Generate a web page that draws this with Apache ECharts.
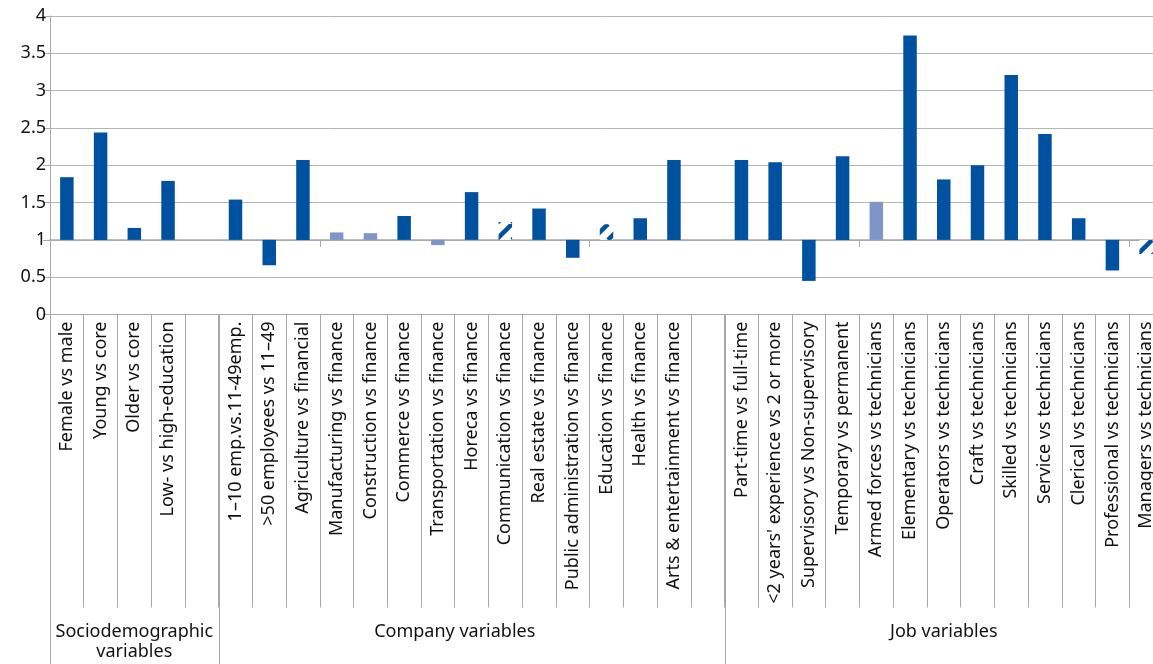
<!DOCTYPE html>
<html><head><meta charset="utf-8">
<script src="https://cdn.jsdelivr.net/npm/echarts@6/dist/echarts.min.js"></script>
<style>html,body{margin:0;padding:0;background:#fff;overflow:hidden}#c{width:1166px;height:664px}</style>
</head><body><div id="c"></div>
<script>
const categories = [
  "Female vs male", "Young vs core", "Older vs core", "Low- vs high-education", " ",
  "1\u201310 emp.vs.11-49emp.", ">50 employees vs 11\u201349", "Agriculture vs financial",
  "Manufacturing vs finance", "Construction vs finance", "Commerce vs finance",
  "Transportation vs finance", "Horeca vs finance", "Communication vs finance",
  "Real estate vs finance", "Public administration vs finance", "Education vs finance",
  "Health vs finance", "Arts & entertainment vs finance", "  ",
  "Part-time vs full-time", "<2 years' experience vs 2 or more", "Supervisory vs Non-supervisory",
  "Temporary vs permanent", "Armed forces vs technicians", "Elementary vs technicians",
  "Operators vs technicians", "Craft vs technicians", "Skilled vs technicians",
  "Service vs technicians", "Clerical vs technicians", "Professional vs technicians",
  "Managers vs technicians"
];
const values = [
  1.84, 2.44, 1.16, 1.79, null,
  1.54, 0.66, 2.07, 1.10, 1.09, 1.32, 0.93, 1.64, 1.24, 1.42, 0.76, 1.21, 1.29, 2.07, null,
  2.07, 2.04, 0.45, 2.12, 1.51, 3.74, 1.81, 2.00, 3.21, 2.42, 1.29, 0.59, 0.81
];
// d = significant (dark), l = light, h = hatched
const kinds = [
  "d","d","d","d","",
  "d","d","d","l","l","d","l","d","h","d","d","h","d","d","",
  "d","d","d","d","l","d","d","d","d","d","d","d","h"
];
const baseline = 1;
const yMin = 0, yMax = 4, yInterval = 0.5;
const groupNames = ["Sociodemographic\nvariables", "Company variables", "Job variables"];
const groupStart = [0, 5, 20];      // first slot of each group
const groupEnd = [5, 20, 33];       // slot after last of each group
const groupLabelFrom = [0, 5, 20];  // slots the label is centered on
const groupLabelTo = [5, 19, 33];

const DARK = "#0052A0", LIGHT = "#7F95C8", GRID = "#B5B5B5", AXIS = "#A8A8A8", TXT = "#111";

function hatch() {
  const c = document.createElement("canvas");
  const s = 16; c.width = s; c.height = s;
  const g = c.getContext("2d");
  g.fillStyle = "#fff"; g.fillRect(0, 0, s, s);
  g.strokeStyle = DARK; g.lineWidth = 4.5;
  for (const k of [-s, 0, s]) { g.beginPath(); g.moveTo(k, s); g.lineTo(k + s, 0); g.stroke(); }
  return { image: c, repeat: "repeat" };
}
const hatchFill = hatch();
function colorOf(k) { return k === "l" ? LIGHT : k === "h" ? hatchFill : DARK; }

const gridTop = 16, gridH = 298.5, gridLeft = 50, gridW = 1113;
const chart = echarts.init(document.getElementById("c"), null, { renderer: "canvas" });
const font = "Noto Sans";
chart.setOption({
  animation: false,
  backgroundColor: "#fff",
  textStyle: { fontFamily: font },
  grid: { left: gridLeft, top: gridTop, width: gridW, height: gridH, containLabel: false },
  xAxis: [
    {
      type: "category", data: categories, position: "bottom",
      axisLine: { lineStyle: { color: AXIS, width: 1 } },
      axisTick: { show: true, length: 293, lineStyle: { color: AXIS } },
      axisLabel: { rotate: 90, margin: 7, fontSize: 18, color: TXT, fontFamily: font, interval: 0 },
      splitLine: { show: false }
    },
    {
      type: "category", data: categories, position: "bottom",
      offset: -(gridH * (baseline - yMin) / (yMax - yMin)),
      axisLine: { lineStyle: { color: AXIS, width: 1.5 } },
      axisTick: { show: true, length: 7, lineStyle: { color: AXIS } },
      axisLabel: { show: false }
    }
  ],
  yAxis: {
    type: "value", min: yMin, max: yMax, interval: yInterval,
    axisLine: { show: true, lineStyle: { color: AXIS } },
    axisTick: { show: true, length: 7, lineStyle: { color: AXIS } },
    axisLabel: { fontSize: 18, color: TXT, margin: 4, fontFamily: font },
    splitLine: { show: true, lineStyle: { color: GRID, width: 1 } }
  },
  series: [
    {
      type: "bar", stack: "or", barWidth: "40%", silent: true,
      itemStyle: { color: "rgba(0,0,0,0)" },
      data: values.map(v => v == null ? "-" : Math.min(v, baseline))
    },
    {
      type: "bar", stack: "or", barWidth: "40%",
      data: values.map((v, i) => v == null ? "-" : {
        value: Math.abs(v - baseline),
        itemStyle: { color: colorOf(kinds[i]) }
      })
    }
  ]
});

// group labels and separators below the category labels
const band = chart.convertToPixel({ xAxisIndex: 0 }, 1) - chart.convertToPixel({ xAxisIndex: 0 }, 0);
const edge = i => chart.convertToPixel({ xAxisIndex: 0 }, i) - band / 2;
const yZero = chart.convertToPixel({ yAxisIndex: 0 }, yMin);
const graphics = [];
const bounds = new Set();
groupStart.forEach((s, gi) => { bounds.add(s); bounds.add(groupEnd[gi]); });
bounds.forEach(b => {
  const x = Math.round(edge(b)) + 0.5;
  graphics.push({ type: "line", shape: { x1: x, y1: yZero, x2: x, y2: 664 }, style: { stroke: AXIS, lineWidth: 1 }, z: 10 });
});
groupNames.forEach((name, gi) => {
  const cx = (edge(groupLabelFrom[gi]) + edge(groupLabelTo[gi])) / 2;
  graphics.push({
    type: "text", x: cx, y: 622, z: 10,
    style: { text: name, fill: TXT, font: "18px '" + font + "'", align: "center", verticalAlign: "top", lineHeight: 20 }
  });
});
chart.setOption({ graphic: graphics });
</script>
</body></html>
